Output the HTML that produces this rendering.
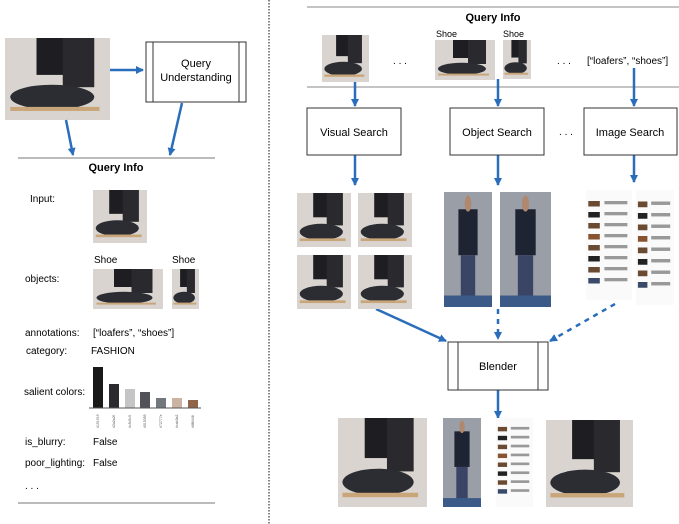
<!DOCTYPE html>
<html><head><meta charset="utf-8"><style>
html,body{margin:0;padding:0;background:#fff;width:679px;height:524px;overflow:hidden}
svg{display:block;font-family:"Liberation Sans",sans-serif}
</style></head><body>
<svg width="679" height="524" viewBox="0 0 679 524" xmlns="http://www.w3.org/2000/svg">
<defs>
<marker id="ah" markerWidth="8" markerHeight="8" refX="7" refY="4" orient="auto" markerUnits="userSpaceOnUse"><path d="M0,0 L8,4 L0,8 z" fill="#2a6ebb"/></marker>
<symbol id="shoe" viewBox="0 0 100 100" preserveAspectRatio="none">
<rect width="100" height="100" fill="#d9d4cf"/>
<rect x="30" y="0" width="35" height="45" fill="#1e1e22"/>
<rect x="55" y="0" width="30" height="60" fill="#2a2a2e"/>
<ellipse cx="45" cy="72" rx="40" ry="15" fill="#2b2d33"/>
<rect x="5" y="84" width="85" height="5" fill="#c9a57a"/>
</symbol>
<symbol id="man" viewBox="0 0 100 100" preserveAspectRatio="none">
<rect width="100" height="100" fill="#9a9ea6"/>
<rect x="30" y="15" width="40" height="40" fill="#1f2433"/>
<rect x="35" y="55" width="30" height="38" fill="#3a4566"/>
<circle cx="50" cy="10" r="7" fill="#b08870"/>
<rect y="90" width="100" height="10" fill="#3c5a88"/>
</symbol>
<symbol id="guide" viewBox="0 0 100 100" preserveAspectRatio="none">
<rect width="100" height="100" fill="#fafafa"/>
<g fill="#6b4a32"><rect x="5" y="10" width="25" height="5"/><rect x="5" y="20" width="25" height="5" fill="#222"/><rect x="5" y="30" width="25" height="5"/><rect x="5" y="40" width="25" height="5" fill="#8a5330"/><rect x="5" y="50" width="25" height="5"/><rect x="5" y="60" width="25" height="5" fill="#222"/><rect x="5" y="70" width="25" height="5"/><rect x="5" y="80" width="25" height="5" fill="#3a4a6a"/></g>
<g fill="#999"><rect x="40" y="10" width="50" height="3"/><rect x="40" y="20" width="50" height="3"/><rect x="40" y="30" width="50" height="3"/><rect x="40" y="40" width="50" height="3"/><rect x="40" y="50" width="50" height="3"/><rect x="40" y="60" width="50" height="3"/><rect x="40" y="70" width="50" height="3"/><rect x="40" y="80" width="50" height="3"/></g>
</symbol>
</defs>

<!-- divider -->
<line x1="269" y1="0" x2="269" y2="524" stroke="#333" stroke-width="1.2" stroke-dasharray="1.5,1.5"/>

<!-- LEFT -->
<use href="#shoe" x="5" y="38" width="105" height="82"/>
<rect x="146" y="42" width="100" height="60" fill="#fff" stroke="#333"/>
<line x1="153" y1="42" x2="153" y2="102" stroke="#333"/><line x1="239" y1="42" x2="239" y2="102" stroke="#333"/>
<text x="196" y="67" font-size="11" text-anchor="middle">Query</text>
<text x="196" y="81" font-size="11" text-anchor="middle">Understanding</text>
<g stroke="#2a6ebb" stroke-width="2.5" fill="none">
<line x1="110" y1="70" x2="143" y2="70" marker-end="url(#ah)"/>
<line x1="66" y1="120" x2="73" y2="155" marker-end="url(#ah)"/>
<line x1="182" y1="103" x2="170" y2="155" marker-end="url(#ah)"/>
</g>
<line x1="18" y1="158" x2="215" y2="158" stroke="#777" stroke-width="1"/>
<text x="116" y="171" font-size="11" font-weight="bold" text-anchor="middle">Query Info</text>
<g font-size="10">
<text x="30" y="202">Input:</text>
<text x="94" y="263">Shoe</text><text x="172" y="263">Shoe</text>
<text x="25" y="282">objects:</text>
<text x="25" y="336">annotations:</text><text x="93" y="336">[“loafers”, “shoes”]</text>
<text x="26" y="354">category:</text><text x="91" y="354">FASHION</text>
<text x="24" y="395">salient colors:</text>
<text x="25" y="445">is_blurry:</text><text x="93" y="445">False</text>
<text x="25" y="466">poor_lighting:</text><text x="93" y="466">False</text>
<text x="25" y="489">. . .</text>
</g>
<use href="#shoe" x="93" y="190" width="54" height="53"/>
<use href="#shoe" x="93" y="269" width="70" height="40"/>
<use href="#shoe" x="172" y="269" width="27" height="40"/>
<g>
<rect x="93" y="367" width="10" height="41" fill="#191919"/>
<rect x="109" y="384" width="10" height="24" fill="#2a2a2f"/>
<rect x="125" y="389" width="10" height="19" fill="#c5c5c5"/>
<rect x="140" y="392" width="10" height="16" fill="#515359"/>
<rect x="156" y="398" width="10" height="10" fill="#72777e"/>
<rect x="172" y="398" width="10" height="10" fill="#cab3a2"/>
<rect x="188" y="400" width="10" height="8" fill="#8f6448"/>
<line x1="89" y1="408" x2="201" y2="408" stroke="#555"/>
</g>
<g font-size="3.5" fill="#555">
<text transform="translate(99,428) rotate(-90)">#191919</text>
<text transform="translate(115,428) rotate(-90)">#2a2a2f</text>
<text transform="translate(131,428) rotate(-90)">#c5c5c5</text>
<text transform="translate(146,428) rotate(-90)">#515359</text>
<text transform="translate(162,428) rotate(-90)">#72777e</text>
<text transform="translate(178,428) rotate(-90)">#cab3a2</text>
<text transform="translate(194,428) rotate(-90)">#8f6448</text>
</g>
<line x1="18" y1="503" x2="215" y2="503" stroke="#777" stroke-width="1"/>

<!-- RIGHT -->
<line x1="307" y1="7" x2="679" y2="7" stroke="#888"/>
<text x="493" y="21" font-size="11" font-weight="bold" text-anchor="middle">Query Info</text>
<use href="#shoe" x="322" y="35" width="47" height="47"/>
<text x="400" y="64" font-size="10" text-anchor="middle">. . .</text>
<text x="436" y="37" font-size="9">Shoe</text><text x="503" y="37" font-size="9">Shoe</text>
<use href="#shoe" x="435" y="40" width="60" height="40"/>
<use href="#shoe" x="503" y="40" width="28" height="39"/>
<text x="564" y="64" font-size="10" text-anchor="middle">. . .</text>
<text x="587" y="64" font-size="10">[“loafers”, “shoes”]</text>
<line x1="307" y1="87" x2="679" y2="87" stroke="#888"/>
<g stroke="#2a6ebb" stroke-width="2.5" fill="none">
<line x1="355" y1="82" x2="355" y2="106" marker-end="url(#ah)"/>
<line x1="498" y1="79" x2="498" y2="106" marker-end="url(#ah)"/>
<line x1="634" y1="68" x2="634" y2="106" marker-end="url(#ah)"/>
<line x1="355" y1="155" x2="355" y2="185" marker-end="url(#ah)"/>
<line x1="498" y1="155" x2="498" y2="185" marker-end="url(#ah)"/>
<line x1="634" y1="155" x2="634" y2="182" marker-end="url(#ah)"/>
<line x1="376" y1="309" x2="446" y2="341" marker-end="url(#ah)"/>
<line x1="498" y1="309" x2="498" y2="339" stroke-dasharray="5,5" marker-end="url(#ah)"/>
<line x1="615" y1="304" x2="550" y2="341" stroke-dasharray="5,5" marker-end="url(#ah)"/>
<line x1="498" y1="390" x2="498" y2="418" marker-end="url(#ah)"/>
</g>
<g fill="#fff" stroke="#333">
<rect x="307" y="108" width="94" height="47"/>
<rect x="450" y="108" width="94" height="47"/>
<rect x="584" y="108" width="93" height="47"/>
<rect x="448" y="342" width="100" height="48"/>
</g>
<line x1="458" y1="342" x2="458" y2="390" stroke="#333"/><line x1="538" y1="342" x2="538" y2="390" stroke="#333"/>
<g font-size="11" text-anchor="middle">
<text x="354" y="136">Visual Search</text>
<text x="497" y="136">Object Search</text>
<text x="630" y="136">Image Search</text>
<text x="498" y="370">Blender</text>
</g>
<text x="566" y="135" font-size="10" text-anchor="middle">. . .</text>
<use href="#shoe" x="297" y="193" width="54" height="54"/>
<use href="#shoe" x="358" y="193" width="54" height="54"/>
<use href="#shoe" x="297" y="255" width="54" height="54"/>
<use href="#shoe" x="358" y="255" width="54" height="54"/>
<use href="#man" x="444" y="192" width="48" height="115"/>
<use href="#man" x="500" y="192" width="51" height="115"/>
<use href="#guide" x="586" y="190" width="46" height="110"/>
<use href="#guide" x="636" y="190" width="38" height="115"/>
<use href="#shoe" x="338" y="418" width="89" height="89"/>
<use href="#man" x="443" y="418" width="38" height="89"/>
<use href="#guide" x="496" y="418" width="37" height="89"/>
<use href="#shoe" x="546" y="420" width="87" height="87"/>
</svg>
</body></html>
